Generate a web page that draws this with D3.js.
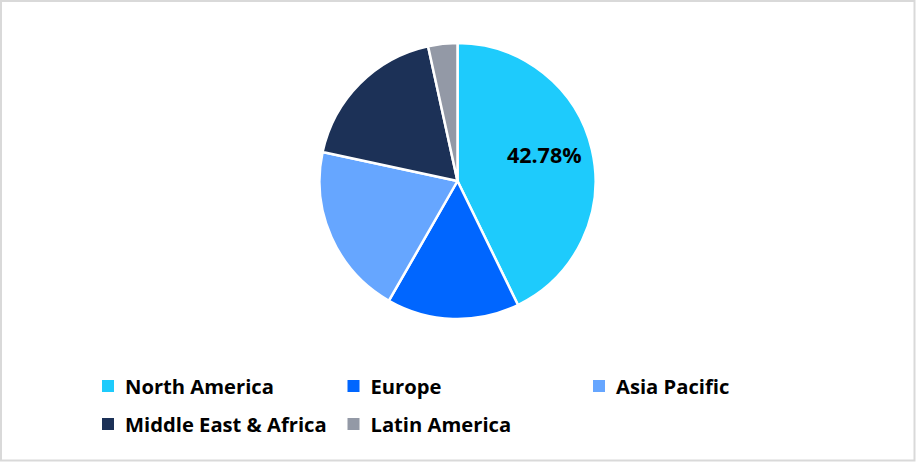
<!DOCTYPE html>
<html>
<head>
<meta charset="utf-8">
<script src="https://cdn.jsdelivr.net/npm/d3@7"></script>
<style>
html,body{margin:0;padding:0;background:#fff;}
svg{display:block;}
</style>
</head>
<body>
<svg id="chart" width="916" height="462"></svg>
<script>
const categories = ["North America", "Europe", "Asia Pacific", "Middle East & Africa", "Latin America"];
const values = [42.78, 15.5, 20.1, 18.2, 3.42];
const colors = ["#1ECBFC", "#0066FF", "#66A6FF", "#1C3157", "#9399A6"];
const labelShown = [true, false, false, false, false];

const svg = d3.select("#chart");
const W = 916, H = 462;
svg.append("rect").attr("x", 1).attr("y", 1).attr("width", W - 2.5).attr("height", H - 2.5)
  .attr("fill", "#fff").attr("stroke", "#D9D9D9").attr("stroke-width", 2);

const cx = 457.5, cy = 181, r = 138;
const data = categories.map((c, i) => ({ name: c, value: values[i], color: colors[i], show: labelShown[i] }));
const pie = d3.pie().value(d => d.value).sort(null);
const arc = d3.arc().innerRadius(0).outerRadius(r);
const labelArc = d3.arc().innerRadius(r * 0.66).outerRadius(r * 0.66);
const g = svg.append("g").attr("transform", `translate(${cx},${cy})`);
const arcs = pie(data);
g.selectAll("path").data(arcs).join("path")
  .attr("d", arc).attr("fill", d => d.data.color)
  .attr("stroke", "#fff").attr("stroke-width", 2.5).attr("stroke-linejoin", "round");

const fmt = v => v.toFixed(2) + "%";
g.selectAll("text.lbl").data(arcs.filter(d => d.data.show)).join("text")
  .attr("class", "lbl")
  .attr("x", d => labelArc.centroid(d)[0] - 2)
  .attr("y", d => labelArc.centroid(d)[1] - 6)
  .attr("text-anchor", "middle").attr("dominant-baseline", "central")
  .attr("font-family", "'Open Sans', sans-serif").attr("font-weight", "bold")
  .attr("font-size", 21.5).attr("fill", "#000")
  .text(d => fmt(d.data.value));

const legend = svg.append("g");
const colX = [102, 347.5, 593];
const rowY = [386, 424];
const items = legend.selectAll("g").data(data).join("g")
  .attr("transform", (d, i) => `translate(${colX[i % 3]},${rowY[Math.floor(i / 3)]})`);
items.append("rect").attr("x", 0).attr("y", -6).attr("width", 12).attr("height", 12).attr("fill", d => d.color);
items.append("text").attr("x", 23).attr("y", 0).attr("dominant-baseline", "central")
  .attr("font-family", "'Open Sans', sans-serif").attr("font-weight", "bold").attr("font-size", 20.2)
  .attr("fill", "#000").text(d => d.name);
</script>
</body>
</html>
